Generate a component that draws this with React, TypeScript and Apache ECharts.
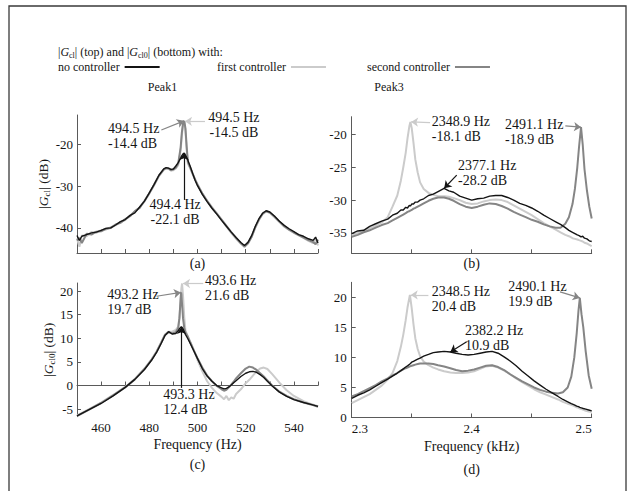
import React, { useEffect, useRef } from 'react';
import * as echarts from 'echarts';

const FONT = 'Liberation Serif';
const TXT = '#151515';
const AXIS = '#5a5a5a';
const C_NONE = '#141414';
const C_FIRST = '#cbcbcb';
const C_SECOND = '#858585';

const SERIES_NAMES = ['no controller', 'first controller', 'second controller'];

// ---------- Panel (a): |Gcl| around Peak1 (Hz, dB)
const freqA = [450, 451, 452, 454, 456, 458, 460, 462, 464, 466, 468, 470, 472, 474, 476, 478, 480, 482, 484, 486, 487, 488, 489, 490, 491, 492, 493, 493.5, 494, 494.5, 495, 495.5, 496, 497, 498, 499, 500, 502, 504, 506, 508, 510, 512, 514, 516, 518, 519.5, 521, 522.5, 524, 525.5, 527, 528.5, 530, 532, 534, 536, 538, 540, 542, 544, 546, 548, 549, 550];
const aNone = [-41.8, -43.0, -42.0, -41.6, -41.2, -41.0, -40.6, -40.1, -40.0, -39.3, -38.5, -38.0, -37.0, -36.4, -35.0, -33.6, -31.6, -29.6, -27.4, -25.9, -25.6, -25.7, -26.0, -25.9, -25.2, -24.4, -23.3, -22.7, -22.3, -22.1, -22.6, -23.2, -23.8, -25.3, -27.0, -28.6, -29.9, -32.0, -33.7, -35.3, -36.7, -38.2, -39.6, -41.0, -42.3, -43.5, -44.2, -43.4, -41.8, -39.6, -37.8, -36.5, -35.9, -36.2, -37.2, -38.4, -39.4, -40.2, -40.9, -41.6, -42.0, -42.6, -43.0, -42.2, -43.6];
const aFirst = [-42.5, -44.5, -41.8, -42.0, -41.0, -41.2, -40.5, -40.4, -39.8, -39.4, -38.6, -38.1, -37.1, -36.1, -35.1, -33.7, -31.8, -29.8, -27.6, -26.1, -25.8, -25.9, -26.3, -26.2, -25.8, -25.0, -21.5, -18.0, -15.3, -14.5, -16.8, -21.2, -24.6, -25.8, -27.2, -28.5, -29.7, -31.7, -33.5, -35.0, -36.5, -38.1, -39.7, -41.2, -42.6, -43.8, -44.4, -43.6, -42.0, -39.9, -38.1, -36.7, -36.1, -36.4, -37.5, -38.6, -39.7, -40.5, -41.2, -41.8, -42.4, -43.1, -43.6, -42.4, -44.2];
const aSecond = [-43.0, -42.4, -43.6, -41.4, -41.6, -40.9, -40.8, -40.2, -40.0, -39.2, -38.8, -37.9, -37.2, -36.0, -35.2, -33.5, -31.7, -29.7, -27.5, -26.0, -25.7, -25.8, -26.2, -26.0, -25.6, -24.6, -20.8, -17.2, -15.0, -14.4, -16.2, -20.5, -24.2, -25.6, -27.0, -28.4, -29.6, -31.8, -33.6, -35.2, -36.6, -38.0, -39.5, -41.0, -42.4, -43.7, -44.5, -43.7, -42.1, -39.8, -38.0, -36.6, -36.0, -36.3, -37.3, -38.5, -39.6, -40.4, -41.1, -41.7, -42.3, -42.9, -43.4, -43.9, -42.8];

// ---------- Panel (b): |Gcl| around Peak3 (Hz, dB)
const freqB = [2300, 2305, 2310, 2315, 2320, 2325, 2330, 2334, 2338, 2341, 2343, 2345, 2346.5, 2348, 2348.9, 2350, 2351.5, 2353, 2355, 2357, 2360, 2364, 2368, 2372, 2377, 2381, 2385, 2390, 2395, 2400, 2405, 2410, 2415, 2420, 2425, 2430, 2435, 2440, 2445, 2450, 2455, 2460, 2465, 2470, 2474, 2478, 2481, 2484, 2486, 2488, 2489.5, 2491.1, 2492.5, 2494, 2496, 2498, 2500];
const bNone = [-35.1, -34.7, -34.6, -34.0, -33.6, -33.2, -32.9, -32.3, -32.0, -31.5, -31.5, -31.1, -31.2, -30.8, -30.9, -30.6, -30.6, -30.3, -30.3, -30.0, -29.8, -29.3, -29.1, -28.7, -28.2, -28.6, -28.8, -29.4, -29.7, -30.0, -29.8, -29.7, -29.4, -29.3, -29.3, -29.6, -30.0, -30.5, -30.8, -31.2, -31.7, -32.3, -32.8, -33.3, -33.7, -34.2, -34.6, -34.9, -35.1, -35.3, -35.4, -35.6, -35.5, -35.8, -35.9, -36.2, -36.3];
const bFirst = [-35.4, -35.0, -34.7, -34.3, -33.9, -33.4, -32.6, -31.0, -29.3, -27.0, -25.0, -22.8, -20.6, -18.8, -18.1, -19.0, -21.3, -23.8, -25.8, -27.3, -28.3, -28.9, -29.2, -29.4, -29.4, -29.5, -29.7, -30.0, -30.4, -30.6, -30.5, -30.2, -30.0, -29.9, -30.0, -30.3, -30.8, -31.3, -31.8, -32.3, -32.9, -33.5, -34.0, -34.5, -34.9, -35.3, -35.5, -35.8, -35.9, -36.0, -36.1, -36.2, -36.3, -36.5, -36.6, -36.8, -37.0];
const bSecond = [-35.6, -35.3, -34.9, -34.6, -34.2, -33.8, -33.5, -33.1, -32.7, -32.4, -32.2, -32.0, -31.8, -31.7, -31.6, -31.5, -31.3, -31.2, -31.0, -30.8, -30.5, -30.1, -29.8, -29.6, -29.6, -29.8, -30.1, -30.6, -31.0, -31.2, -31.0, -30.7, -30.5, -30.6, -30.9, -31.3, -31.8, -32.2, -32.6, -33.0, -33.3, -33.7, -34.0, -34.2, -34.2, -33.6, -32.6, -30.6, -28.3, -25.0, -21.8, -18.9, -21.5, -25.3, -28.5, -31.0, -32.8];

// ---------- Panel (c): |Gcl0| around Peak1 (Hz, dB)
const freqC = [450, 455, 460, 465, 470, 474, 478, 481, 483, 485, 486.5, 488, 489.5, 491, 492, 492.5, 493, 493.2, 493.3, 493.6, 494, 494.5, 495, 496, 497, 498.5, 500, 502, 504, 506, 508, 510, 511, 512, 513, 514, 515, 516, 518, 520, 521.5, 523, 524.5, 526, 527.5, 529, 531, 534, 537, 540, 544, 547, 550];
const cNone = [-6.4, -5.1, -3.8, -2.2, -0.4, 1.3, 3.4, 5.4, 7.0, 9.0, 10.6, 11.4, 10.9, 11.0, 11.6, 12.0, 12.3, 12.35, 12.4, 12.3, 12.0, 11.4, 10.8, 9.9, 8.9, 7.3, 5.7, 3.6, 2.0, 0.9, 0.0, -0.5, -0.7, -0.6, -0.3, 0.1, 0.6, 1.0, 1.9, 2.6, 2.9, 3.0, 2.8, 2.3, 1.7, 0.9, -0.1, -1.4, -2.3, -3.0, -3.6, -4.0, -4.4];
const cFirst = [-6.3, -5.0, -3.6, -2.0, -0.3, 1.4, 3.6, 5.6, 7.2, 9.2, 10.8, 11.4, 11.4, 11.8, 12.5, 14.5, 18.0, 19.6, 20.5, 21.6, 19.0, 14.5, 11.6, 10.4, 9.3, 7.5, 5.4, 3.0, 0.9, -0.5, -1.6, -2.4, -2.9, -2.2, -3.1, -2.5, -2.8, -1.8, -0.8, 0.5, 1.2, 2.1, 3.0, 3.6, 3.8, 3.5, 2.4, 0.6, -1.0, -2.2, -3.3, -3.9, -4.4];
const cSecond = [-6.5, -5.1, -3.7, -2.1, -0.4, 1.3, 3.5, 5.5, 7.1, 9.1, 10.7, 11.3, 11.0, 11.3, 12.2, 14.2, 18.4, 19.7, 19.4, 17.2, 14.2, 12.2, 11.2, 10.3, 9.1, 7.4, 5.8, 3.8, 2.1, 0.9, -0.1, -0.8, -1.1, -0.9, -0.4, 0.2, 0.8, 1.5, 2.6, 3.6, 4.0, 3.8, 3.3, 2.6, 1.9, 1.1, 0.0, -1.3, -2.2, -2.9, -3.6, -4.0, -4.5];

// ---------- Panel (d): |Gcl0| around Peak3 (Hz, dB)
const freqD = [2300, 2305, 2310, 2315, 2320, 2325, 2330, 2334, 2338, 2341, 2343, 2345, 2346.5, 2348.5, 2350, 2351.5, 2353, 2355, 2357, 2360, 2364, 2368, 2372, 2377, 2382.2, 2387, 2392, 2397, 2402, 2407, 2412, 2417, 2422, 2427, 2432, 2437, 2442, 2447, 2452, 2457, 2462, 2467, 2472, 2476, 2480, 2483, 2485.5, 2487.5, 2489, 2490.1, 2491.5, 2493, 2495, 2497.5, 2500];
const dNone = [3.2, 3.7, 4.1, 4.6, 5.2, 5.8, 6.4, 6.9, 7.4, 7.8, 8.1, 8.4, 8.6, 8.9, 9.2, 9.35, 9.5, 9.7, 9.9, 10.2, 10.5, 10.8, 10.9, 11.0, 10.9, 10.7, 10.5, 10.4, 10.5, 10.7, 10.9, 11.0, 10.7, 10.1, 9.4, 8.6, 7.7, 6.9, 6.1, 5.4, 4.7, 4.1, 3.5, 3.0, 2.6, 2.3, 2.1, 1.9, 1.8, 1.7, 1.6, 1.5, 1.4, 1.25, 1.1];
const dFirst = [2.4, 2.9, 3.4, 3.9, 4.6, 5.3, 6.3, 7.4, 9.4, 11.8, 13.8, 16.2, 18.3, 20.4, 18.2, 15.5, 13.2, 11.4, 10.2, 9.3, 8.7, 8.3, 8.0, 7.7, 7.5, 7.4, 7.4, 7.5, 7.7, 8.1, 8.5, 8.6, 8.3, 7.8, 7.2, 6.5, 5.9, 5.3, 4.7, 4.2, 3.8, 3.4, 3.0, 2.6, 2.3, 2.1, 1.9, 1.7, 1.6, 1.5, 1.4, 1.3, 1.1, 1.0, 0.9];
const dSecond = [3.5, 3.9, 4.4, 4.9, 5.4, 6.0, 6.5, 7.0, 7.4, 7.8, 8.0, 8.2, 8.3, 8.5, 8.6, 8.7, 8.8, 8.9, 9.0, 9.0, 9.0, 8.9, 8.7, 8.5, 8.2, 7.9, 7.7, 7.8, 8.0, 8.3, 8.6, 8.7, 8.4, 7.9, 7.2, 6.6, 6.0, 5.5, 5.0, 4.6, 4.3, 4.1, 4.0, 4.2, 5.0, 6.8, 10.0, 14.0, 17.8, 19.9, 17.2, 15.0, 11.0, 7.0, 4.8];

// ---------- Tick values
const yTicksA = [-40, -30, -20];
const yTicksB = [-35, -30, -25, -20];
const yTicksC = [-5, 0, 5, 10, 15, 20];
const yTicksD = [0, 5, 10, 15, 20];

// ---------- Peak annotations (text anchor, arrow from -> to), data coordinates
const annA = [
  { text: '494.5 Hz\n-14.4 dB', at: [462.9, -18.1], align: 'left', from: [485.0, -16.6], to: [494.4, -14.4], color: C_SECOND },
  { text: '494.5 Hz\n-14.5 dB', at: [515.1, -15.5], align: 'center', from: [503.1, -14.6], to: [494.8, -14.5], color: C_FIRST },
  { text: '494.4 Hz\n-22.1 dB', at: [490.7, -36.1], align: 'center', from: [494.4, -33.3], to: [494.4, -22.1], color: C_NONE },
];
const annB = [
  { text: '2348.9 Hz\n-18.1 dB', at: [2366.7, -19.1], align: 'left', from: [2365.3, -18.2], to: [2349.5, -18.1], color: C_FIRST },
  { text: '2491.1 Hz\n-18.9 dB', at: [2427.8, -19.6], align: 'left', from: [2478.0, -18.7], to: [2491.1, -18.9], color: C_SECOND },
  { text: '2377.1 Hz\n-28.2 dB', at: [2388.6, -25.9], align: 'left', from: [2387.5, -26.2], to: [2377.1, -28.2], color: C_NONE },
];
const annC = [
  { text: '493.2 Hz\n19.7 dB', at: [462.6, 17.7], align: 'left', from: [483.0, 18.9], to: [493.1, 19.7], color: C_SECOND },
  { text: '493.6 Hz\n21.6 dB', at: [503.1, 20.7], align: 'left', from: [502.4, 21.6], to: [494.0, 21.6], color: C_FIRST },
  { text: '493.3 Hz\n12.4 dB', at: [485.8, -3.5], align: 'left', from: [493.3, -0.5], to: [493.3, 12.4], color: C_NONE },
];
const annD = [
  { text: '2348.5 Hz\n20.4 dB', at: [2366.7, 19.75], align: 'left', from: [2363.9, 20.4], to: [2349.2, 20.4], color: C_FIRST },
  { text: '2490.1 Hz\n19.9 dB', at: [2430.5, 20.5], align: 'left', from: [2473.6, 20.9], to: [2490.1, 19.9], color: C_SECOND },
  { text: '2382.2 Hz\n10.9 dB', at: [2394.4, 13.3], align: 'left', from: [2395.8, 12.6], to: [2382.2, 10.9], color: C_NONE },
];

function pairs(fs: number[], vs: number[]) {
  return fs.map((f, i) => [f, vs[i]]);
}

const yNameRich = {
  g: { fontStyle: 'italic', fontFamily: FONT, fontSize: 13.5, color: TXT },
  s: { fontFamily: FONT, fontSize: 9, lineHeight: 6, verticalAlign: 'bottom', color: TXT },
};

export default function App() {
  const ref = useRef<HTMLDivElement>(null);

  useEffect(() => {
    const chart = echarts.init(ref.current!, null, { renderer: 'svg' });

    const panels = [
      { freq: freqA, none: aNone, first: aFirst, second: aSecond, ann: annA },
      { freq: freqB, none: bNone, first: bFirst, second: bSecond, ann: annB },
      { freq: freqC, none: cNone, first: cFirst, second: cSecond, ann: annC },
      { freq: freqD, none: dNone, first: dFirst, second: dSecond, ann: annD },
    ];

    const series: any[] = [];
    panels.forEach((p, gi) => {
      const common = {
        type: 'line', xAxisIndex: gi, yAxisIndex: gi, showSymbol: false, symbol: 'none',
        animation: false, silent: true, clip: true,
      };
      series.push({ ...common, name: SERIES_NAMES[1], color: C_FIRST, lineStyle: { color: C_FIRST, width: 2 }, data: pairs(p.freq, p.first), z: 2 });
      series.push({ ...common, name: SERIES_NAMES[2], color: C_SECOND, lineStyle: { color: C_SECOND, width: 2 }, data: pairs(p.freq, p.second), z: 3 });
      series.push({
        ...common, name: SERIES_NAMES[0], color: C_NONE, lineStyle: { color: C_NONE, width: 1.4 }, data: pairs(p.freq, p.none), z: 4,
        markLine: {
          silent: true, animation: false, symbol: ['none', 'arrow'], symbolSize: 7,
          label: { show: false }, lineStyle: { width: 1.2, type: 'solid' },
          data: p.ann.map((a) => [{ coord: a.from, lineStyle: { color: a.color, width: 1.2, type: 'solid' } }, { coord: a.to }]),
        },
        markPoint: {
          silent: true, animation: false, symbol: 'circle', symbolSize: 0,
          data: p.ann.map((a) => ({
            coord: a.at,
            itemStyle: { color: 'transparent' },
            label: {
              show: true, formatter: a.text, position: 'inside', align: a.align, verticalAlign: 'middle',
              fontFamily: FONT, fontSize: 14, lineHeight: 15, color: TXT,
            },
          })),
        },
      });
    });

    const axisLine = { show: true, lineStyle: { color: AXIS, width: 1 } };
    const tickStyle = { inside: true, length: 4, lineStyle: { color: AXIS, width: 1 } };
    const labelStyle = { fontFamily: FONT, fontSize: 13, color: TXT };
    const nameStyle = { fontFamily: FONT, fontSize: 14, color: TXT };

    const xAxis: any[] = [
      {
        type: 'value', gridIndex: 0, min: 450, max: 550, interval: 10, axisLine, axisTick: tickStyle,
        axisLabel: { show: false }, splitLine: { show: false },
        name: '(a)', nameLocation: 'middle', nameGap: 2, nameTextStyle: { ...nameStyle, lineHeight: 16 },
      },
      {
        type: 'value', gridIndex: 1, min: 2300, max: 2500, interval: 50, axisLine, axisTick: tickStyle,
        axisLabel: { show: false }, splitLine: { show: false },
        name: '(b)', nameLocation: 'middle', nameGap: 2, nameTextStyle: { ...nameStyle, lineHeight: 16 },
      },
      {
        type: 'value', gridIndex: 2, min: 450, max: 550, interval: 10, axisLine, axisTick: tickStyle,
        axisLabel: { ...labelStyle, margin: 4, formatter: (v: number) => (v % 20 === 0 ? String(v) : '') },
        splitLine: { show: false },
        name: 'Frequency (Hz)\n(c)', nameLocation: 'middle', nameGap: 16, nameTextStyle: { ...nameStyle, lineHeight: 20 },
      },
      {
        type: 'value', gridIndex: 3, min: 2300, max: 2500, interval: 50, axisLine, axisTick: tickStyle,
        axisLabel: {
          ...labelStyle, margin: 4, alignMinLabel: 'left', alignMaxLabel: 'right',
          formatter: (v: number) => (v % 100 === 0 ? (v / 1000).toFixed(1) : ''),
        },
        splitLine: { show: false },
        name: 'Frequency (kHz)\n(d)', nameLocation: 'middle', nameGap: 9, nameTextStyle: { ...nameStyle, lineHeight: 23 },
      },
    ];

    const yAxis: any[] = [
      {
        type: 'value', gridIndex: 0, min: -46, max: -13, axisLine,
        axisTick: { ...tickStyle, customValues: yTicksA },
        axisLabel: { ...labelStyle, margin: 4, customValues: yTicksA }, splitLine: { show: false },
        name: '|{g|G}{s|cl}| (dB)', nameLocation: 'middle', nameGap: 17, nameRotate: 90,
        nameTextStyle: { fontFamily: FONT, fontSize: 13.5, color: TXT, lineHeight: 16, rich: yNameRich },
      },
      {
        type: 'value', gridIndex: 1, min: -38.1, max: -17.3, axisLine,
        axisTick: { ...tickStyle, customValues: yTicksB },
        axisLabel: { ...labelStyle, margin: 5, customValues: yTicksB }, splitLine: { show: false },
      },
      {
        type: 'value', gridIndex: 2, min: -6.6, max: 21.7, axisLine,
        axisTick: { ...tickStyle, customValues: yTicksC },
        axisLabel: { ...labelStyle, margin: 4, customValues: yTicksC }, splitLine: { show: false },
        name: '|{g|G}{s|cl0}| (dB)', nameLocation: 'middle', nameGap: 21, nameRotate: 90,
        nameTextStyle: { fontFamily: FONT, fontSize: 13.5, color: TXT, lineHeight: 16, rich: yNameRich },
      },
      {
        type: 'value', gridIndex: 3, min: 0, max: 22.5, axisLine,
        axisTick: { ...tickStyle, customValues: yTicksD },
        axisLabel: { ...labelStyle, margin: 5, customValues: yTicksD }, splitLine: { show: false },
      },
    ];

    const legendLeft = [58, 217, 367];
    const legend = SERIES_NAMES.map((n, i) => ({
      data: [n], left: legendLeft[i], top: 61, align: 'right', icon: 'rect',
      itemWidth: 35, itemHeight: 2, selectedMode: false, padding: 0,
      itemStyle: { borderWidth: 0 }, lineStyle: { width: 0 },
      textStyle: { fontFamily: FONT, fontSize: 12, color: TXT },
    }));

    chart.setOption({
      animation: false,
      backgroundColor: '#ffffff',
      textStyle: { fontFamily: FONT },
      grid: [
        { left: 77, top: 115, width: 241, height: 138 },
        { left: 351.7, top: 116.7, width: 240, height: 136.6 },
        { left: 77, top: 283, width: 241, height: 133.7 },
        { left: 351.7, top: 282.3, width: 240, height: 135.2 },
      ],
      xAxis,
      yAxis,
      legend,
      series,
      graphic: [
        {
          type: 'rect', silent: true, shape: { x: 9, y: 6, width: 617, height: 500 },
          style: { fill: 'none', stroke: '#3a3a3a', lineWidth: 1.3 },
        },
        {
          type: 'text', silent: true, x: 58, y: 52,
          style: {
            text: '|{g|G}{s|cl}| (top) and |{g|G}{s|cl0}| (bottom) with:',
            fontFamily: FONT, fontSize: 12, lineHeight: 14, fill: TXT, verticalAlign: 'middle',
            rich: {
              g: { fontStyle: 'italic', fontFamily: FONT, fontSize: 12, fill: TXT },
              s: { fontFamily: FONT, fontSize: 8, lineHeight: 6, verticalAlign: 'bottom', fill: TXT },
            },
          },
        },
        {
          type: 'text', silent: true, x: 162.5, y: 87,
          style: { text: 'Peak1', fontFamily: FONT, fontSize: 12, fill: TXT, align: 'center', verticalAlign: 'middle' },
        },
        {
          type: 'text', silent: true, x: 389, y: 87,
          style: { text: 'Peak3', fontFamily: FONT, fontSize: 12, fill: TXT, align: 'center', verticalAlign: 'middle' },
        },
      ],
    });

    return () => chart.dispose();
  }, []);

  return (
    <div
      ref={ref}
      style={{ position: 'absolute', left: 0, top: 0, width: 635, height: 491, background: '#ffffff' }}
    />
  );
}
